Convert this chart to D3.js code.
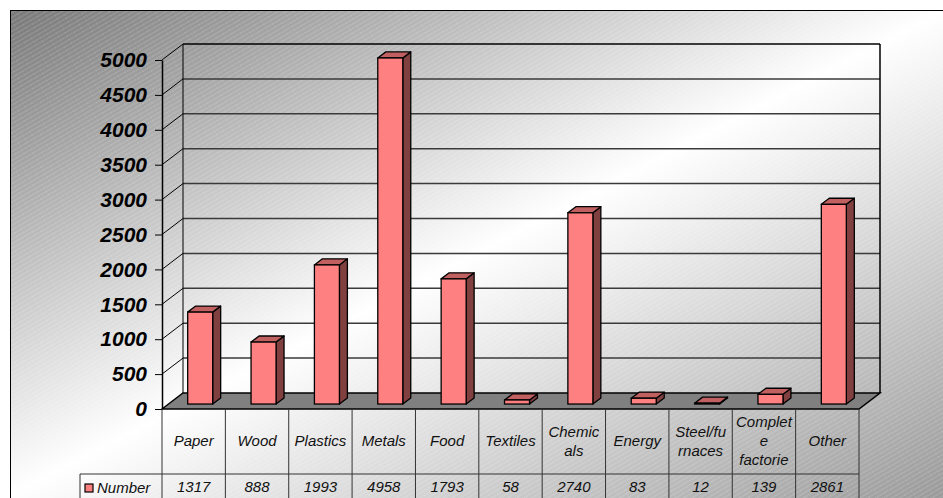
<!DOCTYPE html>
<html>
<head>
<meta charset="utf-8">
<script src="https://cdn.jsdelivr.net/npm/d3@7"></script>
<style>
  body { margin: 0; background: #fff; }
  svg { display: block; }
</style>
</head>
<body>
<script>
// chart data
var categories = ["Paper", "Wood", "Plastics", "Metals", "Food", "Textiles", "Chemicals", "Energy", "Steel/furnaces", "Complete factorie", "Other"];
var labelLines = [["Paper"], ["Wood"], ["Plastics"], ["Metals"], ["Food"], ["Textiles"], ["Chemic", "als"], ["Energy"], ["Steel/fu", "rnaces"], ["Complet", "e", "factorie"], ["Other"]];
var values = [1317, 888, 1993, 4958, 1793, 58, 2740, 83, 12, 139, 2861];
var seriesName = "Number";
var yTicks = [0, 500, 1000, 1500, 2000, 2500, 3000, 3500, 4000, 4500, 5000];

var width = 943, height = 498;
var DX = 21, DY = -16;        // depth of the 3d walls
var z0 = 0.31, z1 = 0.69;     // bar position inside the depth
var barW = 25;

var svg = d3.select("body").append("svg")
  .attr("width", width)
  .attr("height", height);

var defs = svg.append("defs");
var grad = defs.append("linearGradient")
  .attr("id", "bg")
  .attr("gradientUnits", "userSpaceOnUse")
  .attr("x1", 10).attr("y1", 10)
  .attr("x2", 407).attr("y2", 775);
grad.append("stop").attr("offset", 0).attr("stop-color", "#777");
grad.append("stop").attr("offset", 0.5).attr("stop-color", "#ffffff");
grad.append("stop").attr("offset", 1).attr("stop-color", "#999");

var pat = defs.append("pattern")
  .attr("id", "hatch")
  .attr("patternUnits", "userSpaceOnUse")
  .attr("width", 8).attr("height", 4)
  .attr("patternTransform", "rotate(-30)");
pat.append("line")
  .attr("x1", 0).attr("y1", 1).attr("x2", 8).attr("y2", 1)
  .attr("stroke", "#fff").attr("stroke-width", 0.8)
  .attr("stroke-dasharray", "1.5,0.8")
  .attr("opacity", 0.4);

// frame
svg.append("rect").attr("x", 10.5).attr("y", 10.5).attr("width", 960).attr("height", 520)
  .attr("fill", "url(#bg)").attr("stroke", "#000").attr("stroke-width", 1);
svg.append("rect").attr("x", 11).attr("y", 11).attr("width", 960).attr("height", 520)
  .attr("fill", "url(#hatch)");

var x = d3.scaleBand().domain(categories).range([162, 859]).padding(0);
var y = d3.scaleLinear().domain([0, 5000]).range([409, 60]);

var g = svg.append("g");

// floor
var x0 = x.range()[0], x1 = x.range()[1];
g.append("path")
  .attr("d", "M" + x0 + "," + y(0) + "L" + (x0 + DX) + "," + (y(0) + DY) + "L" + (x1 + DX) + "," + (y(0) + DY) + "L" + x1 + "," + y(0) + "Z")
  .attr("fill", "#808080").attr("stroke", "#000").attr("stroke-width", 1.5);

// back wall grid lines and left wall diagonals
yTicks.forEach(function(t) {
  if (t === 0) return;
  g.append("line")
    .attr("x1", x0 + DX).attr("x2", x1 + DX)
    .attr("y1", y(t) + DY).attr("y2", y(t) + DY)
    .attr("stroke", t === 5000 ? "#000" : "#3a3a3a").attr("stroke-width", 1.5);
  g.append("line")
    .attr("x1", x0).attr("y1", y(t))
    .attr("x2", x0 + DX).attr("y2", y(t) + DY)
    .attr("stroke", "#000").attr("stroke-width", 1);
});
g.append("line")
  .attr("x1", x0 + DX).attr("x2", x0 + DX)
  .attr("y1", y(5000) + DY).attr("y2", y(0) + DY)
  .attr("stroke", "#000").attr("stroke-width", 1);
g.append("line")
  .attr("x1", x1 + DX).attr("x2", x1 + DX)
  .attr("y1", y(5000) + DY).attr("y2", y(0) + DY)
  .attr("stroke", "#000").attr("stroke-width", 1.5);

// y axis
var yAxis = d3.axisLeft(y).tickValues(yTicks).tickFormat(d3.format("d"))
  .tickSize(7).tickPadding(8).tickSizeOuter(0);
var ax = g.append("g").attr("transform", "translate(" + x0 + ",0)").call(yAxis);
ax.select(".domain").attr("stroke", "#000").attr("stroke-width", 1.5);
ax.selectAll(".tick line").attr("stroke", "#000");
ax.selectAll(".tick text")
  .attr("font-family", "Liberation Sans, Arial, sans-serif")
  .attr("font-size", 21)
  .attr("font-weight", "bold")
  .attr("font-style", "italic")
  .attr("fill", "#000");

// bars
var bars = g.selectAll(".bar").data(values).enter().append("g").attr("class", "bar");
function bx(d, i) { return x(categories[i]) + (x.bandwidth() - barW) / 2 + z0 * DX; }
var ddx = (z1 - z0) * DX, ddy = (z1 - z0) * DY;
bars.each(function(d, i) {
  var b = d3.select(this);
  var xl = bx(d, i), xr = xl + barW;
  var yb = y(0) + z0 * DY, yt = y(d) + z0 * DY;
  b.append("path")
    .attr("d", "M" + xr + "," + yt + "L" + (xr + ddx) + "," + (yt + ddy) + "L" + (xr + ddx) + "," + (yb + ddy) + "L" + xr + "," + yb + "Z")
    .attr("fill", "#804040").attr("stroke", "#000").attr("stroke-width", 1.3).attr("stroke-linejoin", "round");
  b.append("path")
    .attr("d", "M" + xl + "," + yt + "L" + (xl + ddx) + "," + (yt + ddy) + "L" + (xr + ddx) + "," + (yt + ddy) + "L" + xr + "," + yt + "Z")
    .attr("fill", "#c06060").attr("stroke", "#000").attr("stroke-width", 1.3).attr("stroke-linejoin", "round");
  b.append("rect")
    .attr("x", xl).attr("y", yt).attr("width", barW).attr("height", Math.max(0, yb - yt))
    .attr("fill", "#ff8080").attr("stroke", "#000").attr("stroke-width", 1.3);
});

// data table
var tg = svg.append("g");
var rowTop = 474;
categories.concat([null]).forEach(function(c, i) {
  var xx = i < categories.length ? x(c) : x1;
  tg.append("line").attr("x1", xx).attr("x2", xx).attr("y1", y(0)).attr("y2", 500)
    .attr("stroke", "#333").attr("stroke-width", 1);
});
tg.append("line").attr("x1", 80).attr("x2", x1).attr("y1", rowTop).attr("y2", rowTop)
  .attr("stroke", "#333").attr("stroke-width", 1);
tg.append("line").attr("x1", 80).attr("x2", 80).attr("y1", rowTop).attr("y2", 500)
  .attr("stroke", "#333").attr("stroke-width", 1);

var font = "Liberation Sans, Arial, sans-serif";
labelLines.forEach(function(lines, i) {
  var cx = x(categories[i]) + x.bandwidth() / 2;
  var t = tg.append("text")
    .attr("x", cx)
    .attr("y", 441 - (lines.length - 1) * 19 / 2)
    .attr("text-anchor", "middle")
    .attr("font-family", font).attr("font-size", 15).attr("font-style", "italic")
    .attr("fill", "#111");
  lines.forEach(function(l, k) {
    t.append("tspan").attr("x", cx).attr("dy", k === 0 ? "0.35em" : 19).text(l);
  });
});
values.forEach(function(v, i) {
  tg.append("text")
    .attr("x", x(categories[i]) + x.bandwidth() / 2)
    .attr("y", 487).attr("dy", "0.35em")
    .attr("text-anchor", "middle")
    .attr("font-family", font).attr("font-size", 15).attr("font-style", "italic")
    .attr("fill", "#111")
    .text(v);
});

// legend
tg.append("rect").attr("x", 85).attr("y", 484).attr("width", 8).attr("height", 8)
  .attr("fill", "#ff8080").attr("stroke", "#000").attr("stroke-width", 1.2);
tg.append("text").attr("x", 97).attr("y", 488).attr("dy", "0.35em")
  .attr("font-family", font).attr("font-size", 15).attr("font-style", "italic")
  .attr("fill", "#111")
  .text(seriesName);
</script>
</body>
</html>
